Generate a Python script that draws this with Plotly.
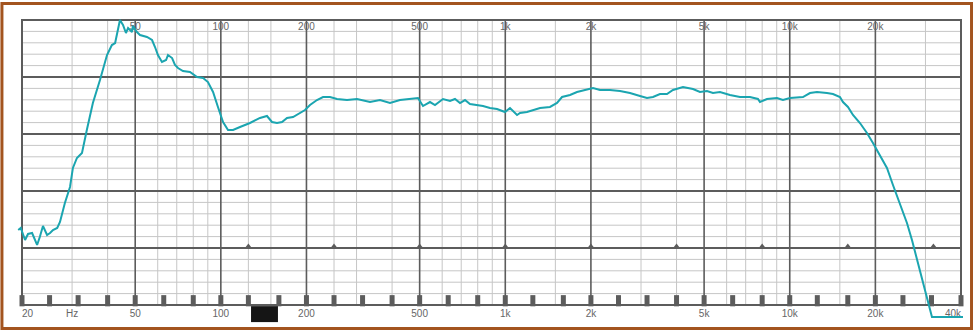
import plotly.graph_objects as go

# ---- data ----
freq_hz = [19.4, 19.8, 20.5, 21.0, 21.7, 22.6, 23.1, 23.7, 24.5, 25.1, 25.7, 26.6, 27.2, 28.3, 29.5,
           30.2, 31.2, 32.5, 33.8, 35.5, 37.6, 39.8, 41.4, 42.5, 44.2, 45.3, 46.4, 47.2, 48.7, 49.1,
           50.7, 52.0, 55.0, 57.3, 58.7, 60.1, 62.1, 64.2, 65.2, 67.4, 69.0, 70.7, 73.6, 77.9, 82.5,
           86.6, 90.1, 93.9, 97.7, 101.8, 106.0, 110.4, 116.8, 126.6, 137.3, 145.3, 151.3, 157.6, 164.1,
           170.9, 179.4, 189.8, 197.7, 205.8, 217.8, 228.7, 242.0, 256.1, 277.7, 301.1, 334.5, 362.7,
           393.3, 426.4, 462.4, 493.3, 513.7, 543.7, 566.1, 604.0, 639.2, 665.6, 693.1, 721.7, 751.5,
           795.4, 835.0, 883.6, 935.2, 997.7, 1039, 1100, 1127, 1192, 1252, 1325, 1436, 1520, 1583,
           1689, 1787, 1938, 2034, 2153, 2334, 2531, 2744, 2975, 3149, 3306, 3498, 3702, 3886, 4214,
           4569, 4835, 5117, 5372, 5685, 6164, 6684, 7247, 7732, 7858, 8316, 9018, 9466, 10018, 11130,
           11779, 12465, 13516, 14189, 15016, 15385, 16021, 16683, 17655, 18684, 19614, 20758, 21968,
           23062, 24406, 25828, 26896, 28008, 29164, 30370, 31624, 40650]
level_db = [13.16, 13.51, 11.40, 12.46, 12.63, 10.53, 11.93, 13.86, 12.28, 12.63, 13.16, 13.51, 14.56,
            17.89, 20.70, 24.04, 25.79, 26.67, 30.70, 35.44, 39.47, 43.86, 45.61, 45.96, 50.0, 49.12,
            47.72, 48.60, 47.89, 48.95, 47.89, 47.37, 47.02, 46.49, 45.26, 43.86, 42.63, 42.98, 43.86,
            43.33, 42.11, 41.58, 41.05, 40.88, 40.0, 39.82, 39.12, 37.37, 34.74, 32.11, 30.70, 30.70,
            31.23, 31.93, 32.81, 33.16, 32.11, 31.93, 32.11, 32.81, 32.98, 33.68, 34.21, 35.09, 35.96,
            36.49, 36.49, 36.14, 35.96, 36.14, 35.61, 35.96, 35.44, 35.96, 36.14, 36.32, 34.91, 35.61,
            35.09, 36.14, 35.79, 36.14, 35.44, 35.96, 35.26, 35.09, 34.91, 34.56, 34.39, 33.86, 34.56,
            33.33, 33.68, 33.86, 34.21, 34.56, 34.74, 35.44, 36.49, 36.84, 37.37, 37.89, 38.07, 37.72,
            37.72, 37.54, 37.19, 36.67, 36.32, 36.49, 37.02, 37.02, 37.72, 38.25, 37.89, 37.37, 37.54,
            37.19, 37.37, 36.84, 36.49, 36.49, 36.14, 35.61, 36.14, 36.32, 35.96, 36.32, 36.49, 37.19,
            37.37, 37.19, 37.02, 36.49, 35.61, 34.74, 33.33, 31.93, 30.18, 28.42, 26.32, 24.04, 21.05,
            17.89, 14.39, 11.40, 7.89, 4.39, 0.88, -2.11, -2.11]

major_freqs = [50, 100, 200, 500, 1000, 2000, 5000, 10000, 20000]
minor_freqs = [30, 40, 60, 70, 80, 90, 125, 150, 250, 300, 400, 600, 700, 800, 900, 1500,
               3000, 4000, 6000, 7000, 8000, 9000, 15000, 30000]
third_octave_freqs = [20, 25, 31.5, 40, 50, 63, 80, 100, 125, 160, 200, 250, 315, 400, 500, 630, 800,
                      1000, 1250, 1600, 2000, 2500, 3150, 4000, 5000, 6300, 8000, 10000, 12500,
                      16000, 20000, 25000, 31500, 40000]
octave_marker_freqs = [125, 250, 500, 1000, 2000, 4000, 8000, 16000, 32000]
top_labels = ["50", "100", "200", "500", "1k", "2k", "5k", "10k", "20k"]
bottom_labels = ["50", "100", "200", "500", "1k", "2k", "5k", "10k", "20k"]
major_db = [10, 20, 30, 40]
minor_db = [v for v in range(2, 50, 2) if v % 10 != 0]
F_MIN, F_MAX = 20, 40000
DB_MIN, DB_MAX = 0, 50

HEAVY = "#5c5c5c"
LIGHT = "#c6c6c6"
CURVE = "#1ba5b0"
TXT = "#666666"
FONT = "Liberation Sans, Arial"

fig = go.Figure()

shapes = []
for d in minor_db:
    shapes.append(dict(type="line", xref="x", yref="y", x0=F_MIN, x1=F_MAX, y0=d, y1=d,
                       line=dict(color=LIGHT, width=1), layer="below"))
for f in minor_freqs:
    shapes.append(dict(type="line", xref="x", yref="y", x0=f, x1=f, y0=DB_MIN, y1=DB_MAX,
                       line=dict(color=LIGHT, width=1), layer="below"))
for d in major_db:
    shapes.append(dict(type="line", xref="x", yref="y", x0=F_MIN, x1=F_MAX, y0=d, y1=d,
                       line=dict(color=HEAVY, width=1.8), layer="below"))
for f in major_freqs:
    shapes.append(dict(type="line", xref="x", yref="y", x0=f, x1=f, y0=DB_MIN, y1=DB_MAX,
                       line=dict(color=HEAVY, width=1.6), layer="below"))
shapes.append(dict(type="rect", xref="x", yref="y", x0=F_MIN, x1=F_MAX, y0=DB_MIN, y1=DB_MAX,
                   line=dict(color=HEAVY, width=2), layer="below"))
shapes.append(dict(type="rect", xref="x", yref="y", x0=127.7, x1=158.8, y0=-0.2, y1=-3.0,
                   fillcolor="#151515", line=dict(width=0)))
shapes.append(dict(type="rect", xref="paper", yref="paper", x0=-0.0105, x1=1.0016,
                   y0=-0.0080, y1=1.0336, line=dict(color="#a3541f", width=3)))

fig.add_trace(go.Scatter(x=major_freqs, y=[48.7] * len(major_freqs), mode="text",
                         text=top_labels, textposition="middle center",
                         textfont=dict(family=FONT, size=10, color=TXT),
                         hoverinfo="skip", showlegend=False))
fig.add_trace(go.Scatter(x=major_freqs, y=[-1.75] * len(major_freqs), mode="text",
                         text=bottom_labels, textposition="middle center",
                         textfont=dict(family=FONT, size=10, color=TXT),
                         hoverinfo="skip", showlegend=False))
fig.add_trace(go.Scatter(x=[F_MIN, 30, F_MAX], y=[-1.75, -1.75, -1.75], mode="text",
                         text=["20", "Hz", "40k"],
                         textposition=["middle right", "middle center", "middle left"],
                         textfont=dict(family=FONT, size=10, color=TXT),
                         hoverinfo="skip", showlegend=False))
# 1/3-octave tick blocks on the bottom edge
fig.add_trace(go.Scatter(x=third_octave_freqs, y=[0.75] * len(third_octave_freqs),
                         mode="markers",
                         marker=dict(symbol="line-ns", size=8, color=HEAVY,
                                     line=dict(color=HEAVY, width=5)),
                         hoverinfo="skip", showlegend=False))
fig.add_trace(go.Scatter(x=octave_marker_freqs, y=[10.35] * len(octave_marker_freqs),
                         mode="markers", marker=dict(symbol="triangle-up", size=5, color=HEAVY),
                         hoverinfo="skip", showlegend=False))
fig.add_trace(go.Scatter(x=freq_hz, y=level_db, mode="lines",
                         line=dict(color=CURVE, width=2), showlegend=False))

fig.update_layout(
    width=973, height=331,
    margin=dict(l=12, r=3, t=14, b=5),
    paper_bgcolor="white", plot_bgcolor="white",
    shapes=shapes,
    xaxis=dict(type="log", range=[1.26588, 4.6337], visible=False, showgrid=False, zeroline=False),
    yaxis=dict(range=[-3.684, 51.053], visible=False, showgrid=False, zeroline=False),
)

fig.write_html("out.html", config={"displayModeBar": False},
               post_script="document.body.style.margin='0';document.body.style.overflow='hidden';")
